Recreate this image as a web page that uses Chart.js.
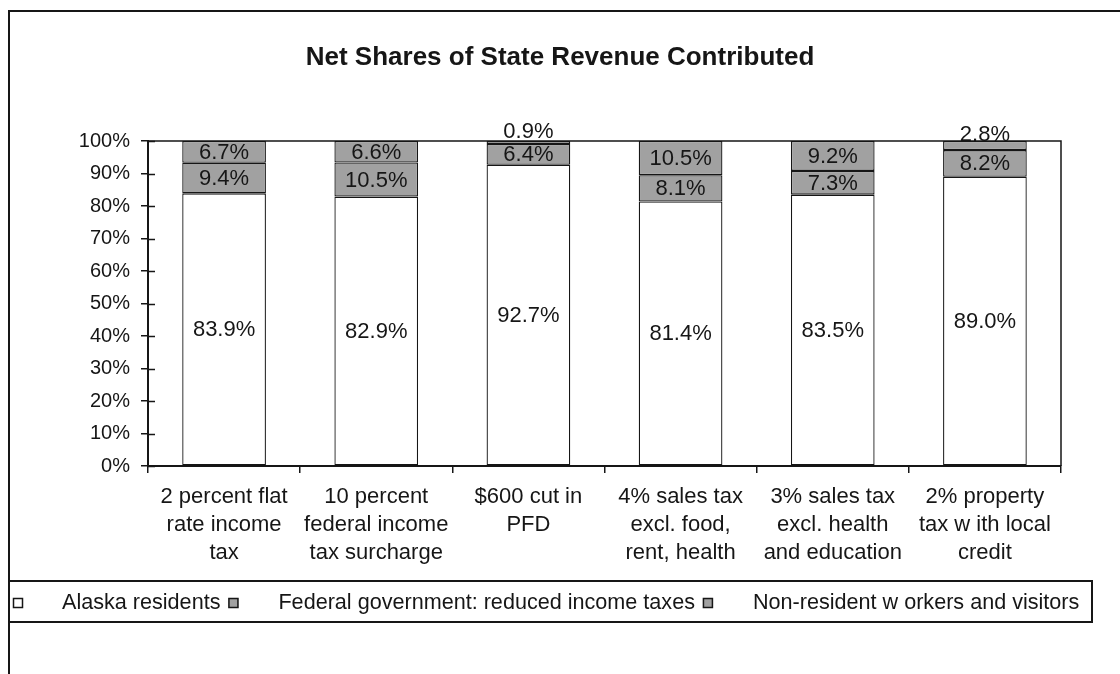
<!DOCTYPE html>
<html>
<head>
<meta charset="utf-8">
<script src="https://cdn.jsdelivr.net/npm/chart.js@4.4.0/dist/chart.umd.min.js"></script>
<style>
  html, body { margin: 0; padding: 0; background: #ffffff; }
  #wrap { width: 1120px; height: 674px; position: relative; }
</style>
</head>
<body>
<div id="wrap"><canvas id="c" width="1120" height="674"></canvas></div>
<script>
// Revenue options (multi-line category labels)
const categories = [
  ["2 percent flat", "rate income", "tax"],
  ["10 percent", "federal income", "tax surcharge"],
  ["$600 cut in", "PFD"],
  ["4% sales tax", "excl. food,", "rent, health"],
  ["3% sales tax", "excl. health", "and education"],
  ["2% property", "tax w ith local", "credit"]
];

// Share of each option's revenue, in percent
const alaskaResidents   = [83.9, 82.9, 92.7, 81.4, 83.5, 89.0];
const federalGovernment = [9.4, 10.5, 6.4, 8.1, 7.3, 8.2];
const nonResidents      = [6.7, 6.6, 0.9, 10.5, 9.2, 2.8];

const seriesNames = [
  "Alaska residents",
  "Federal government: reduced income taxes",
  "Non-resident w orkers and visitors"
];

const yMin = 0, yMax = 100, yStep = 10;
const chartTitle = "Net Shares of State Revenue Contributed";

const FONT = "'Liberation Sans', Arial, Helvetica, sans-serif";
const INK = "#161616";
const GRAY = "#a1a1a1";

// Page frame, title, plot border, crossing y ticks
const framePlugin = {
  id: "frame",
  afterDraw(chart) {
    const ctx = chart.ctx;
    const a = chart.chartArea;
    ctx.save();
    ctx.strokeStyle = INK;
    ctx.lineWidth = 2;
    ctx.beginPath();
    ctx.moveTo(8, 11); ctx.lineTo(1120, 11);
    ctx.moveTo(9, 11); ctx.lineTo(9, 674);
    ctx.stroke();

    ctx.fillStyle = INK;
    ctx.font = "bold 26px " + FONT;
    ctx.textAlign = "center";
    ctx.textBaseline = "middle";
    ctx.fillText(chartTitle, 560, 58);

    // top and right edges of the plot area
    ctx.lineWidth = 1.5;
    ctx.beginPath();
    ctx.moveTo(a.left, a.top); ctx.lineTo(a.right, a.top); ctx.lineTo(a.right, a.bottom);
    ctx.stroke();

    // inner half of the y tick marks
    const ys = chart.scales.y;
    ctx.beginPath();
    ys.ticks.forEach((t, i) => {
      const py = Math.round(ys.getPixelForTick(i)) + 0.5;
      ctx.moveTo(a.left, py); ctx.lineTo(a.left + 7, py);
    });
    ctx.stroke();
    ctx.restore();
  }
};

// Value labels on each bar segment
const valueLabels = {
  id: "valueLabels",
  afterDatasetsDraw(chart) {
    const ctx = chart.ctx;
    ctx.save();
    ctx.font = "22px " + FONT;
    ctx.fillStyle = INK;
    ctx.textAlign = "center";
    ctx.textBaseline = "middle";
    chart.data.datasets.forEach((ds, di) => {
      const meta = chart.getDatasetMeta(di);
      meta.data.forEach((bar, i) => {
        const v = ds.data[i];
        const top = Math.min(bar.y, bar.base);
        const h = Math.abs(bar.base - bar.y);
        let cy = top + h / 2;
        if (h < 12) cy -= 11.5;   // thin slices: lift the label clear of the slice
        ctx.fillText(v.toFixed(1) + "%", bar.x, cy + 1);
      });
    });
    ctx.restore();
  }
};

// Boxed legend strip under the axis labels
const legendStrip = {
  id: "legendStrip",
  afterDraw(chart) {
    const ctx = chart.ctx;
    ctx.save();
    ctx.strokeStyle = INK;
    ctx.lineWidth = 2;
    ctx.strokeRect(9, 581, 1083, 41);
    ctx.font = "21.6px " + FONT;
    ctx.textBaseline = "middle";
    ctx.textAlign = "left";
    const cy = 603;
    let x = 13;
    chart.data.datasets.forEach((ds, k) => {
      ctx.fillStyle = ds.backgroundColor;
      ctx.fillRect(x, cy - 5, 10, 10);
      ctx.lineWidth = 1.5;
      ctx.strokeStyle = INK;
      ctx.strokeRect(x + 0.5, cy - 4.5, 9, 9);
      ctx.fillStyle = INK;
      const tx = x + (k === 0 ? 49 : 50);
      ctx.fillText(ds.label, tx, cy);
      x = tx + ctx.measureText(ds.label).width + 8;
    });
    ctx.restore();
  }
};

const segment = (label, data, color) => ({
  label, data,
  backgroundColor: color,
  borderColor: INK,
  borderWidth: 1.3,
  borderSkipped: false,
  categoryPercentage: 1.0,
  barPercentage: 0.55
});

new Chart(document.getElementById("c"), {
  type: "bar",
  data: {
    labels: categories,
    datasets: [
      segment(seriesNames[0], alaskaResidents, "#ffffff"),
      segment(seriesNames[1], federalGovernment, GRAY),
      segment(seriesNames[2], nonResidents, GRAY)
    ]
  },
  options: {
    responsive: false,
    devicePixelRatio: 1,
    animation: false,
    layout: { padding: { left: 8, right: 59, top: 141, bottom: 98 } },
    plugins: {
      legend: { display: false },
      tooltip: { enabled: false },
      title: { display: false }
    },
    scales: {
      x: {
        stacked: true,
        afterFit(s) { s.height = 110; },
        grid: {
          display: true, offset: true, drawOnChartArea: false,
          drawTicks: true, tickLength: 7, color: INK, lineWidth: 1.5
        },
        border: { display: true, color: INK, width: 2 },
        ticks: {
          color: INK, padding: 10, maxRotation: 0, autoSkip: false,
          font: { family: FONT, size: 22, lineHeight: 1.27 }
        }
      },
      y: {
        stacked: true,
        min: yMin, max: yMax,
        afterFit(s) { s.width = 140; },
        grid: {
          display: true, drawOnChartArea: false,
          drawTicks: true, tickLength: 7, color: INK, lineWidth: 1.5
        },
        border: { display: true, color: INK, width: 2 },
        ticks: {
          stepSize: yStep, color: INK, padding: 11,
          font: { family: FONT, size: 20 },
          callback: (v) => v + "%"
        }
      }
    }
  },
  plugins: [valueLabels, framePlugin, legendStrip]
});
</script>
</body>
</html>
